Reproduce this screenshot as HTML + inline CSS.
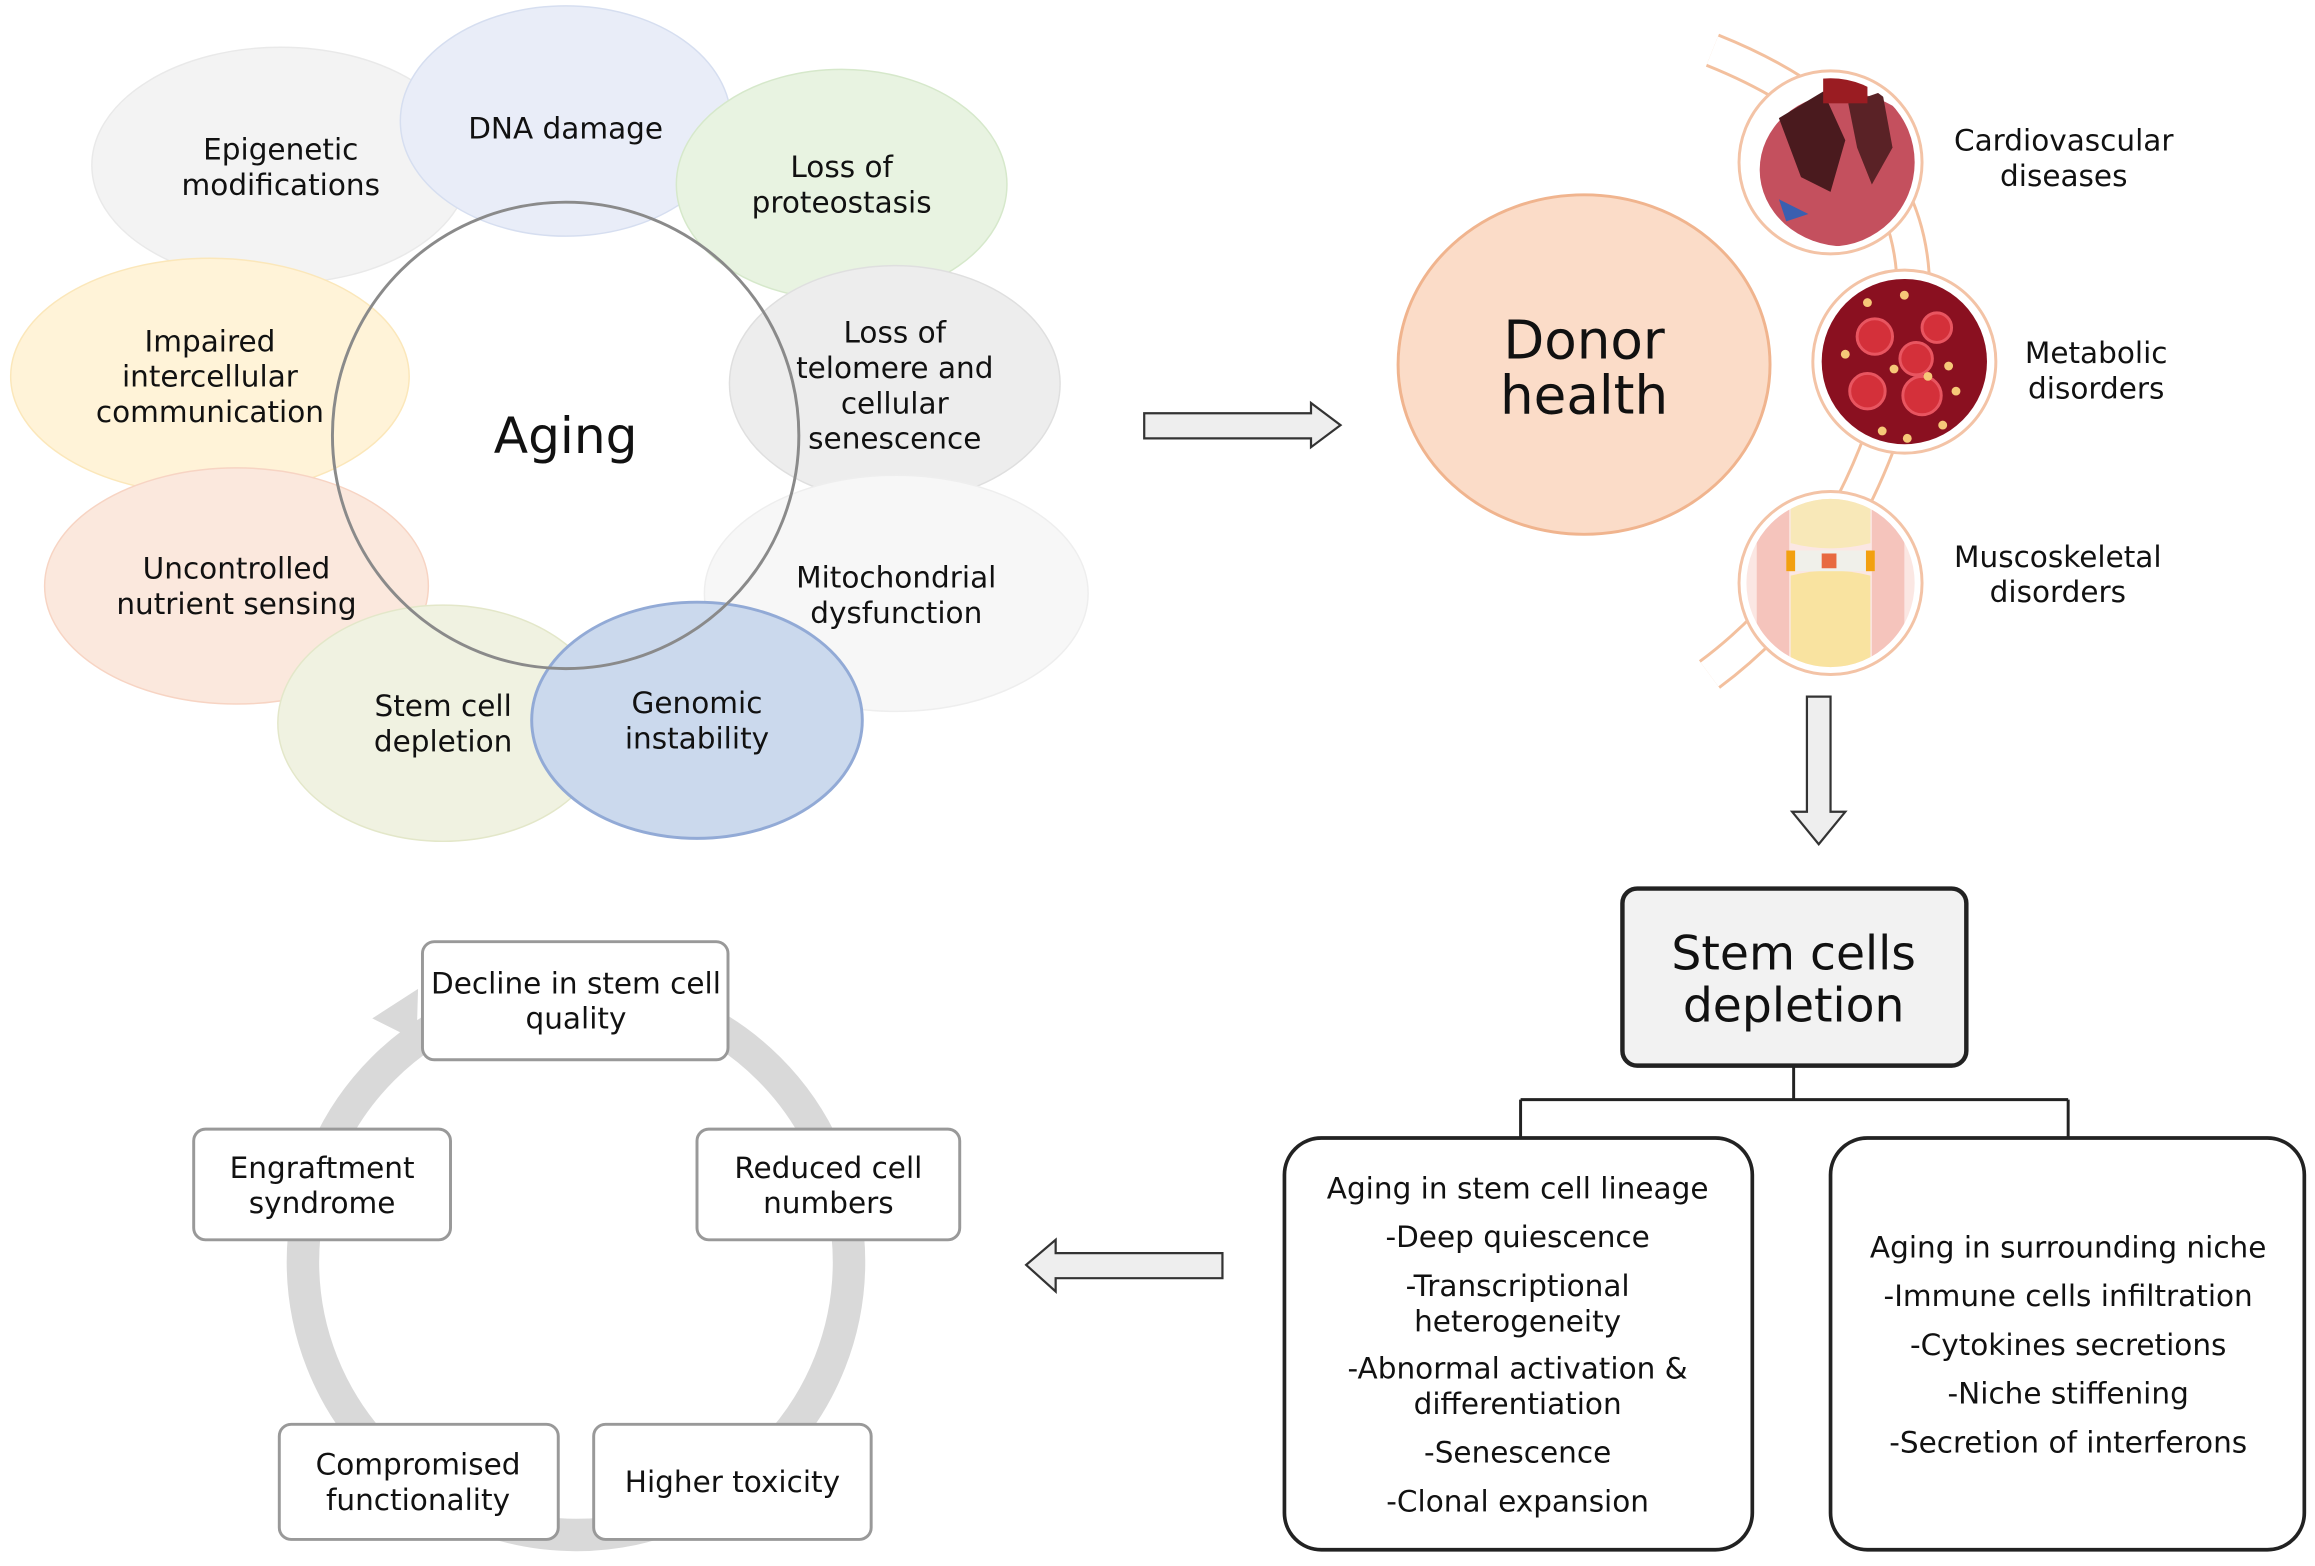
<!DOCTYPE html>
<html><head><meta charset="utf-8"><style>
html,body{margin:0;padding:0;background:#fff}
svg{display:block}
text{font-family:"DejaVu Sans","Liberation Sans",sans-serif;fill:#111;text-anchor:middle}
</style></head><body>
<svg width="2315" height="1566" viewBox="0 0 1568 1061" xmlns="http://www.w3.org/2000/svg">
<defs>
<clipPath id="c1"><circle cx="1240" cy="110" r="57"/></clipPath>
<clipPath id="c2"><circle cx="1290" cy="245" r="57"/></clipPath>
<clipPath id="c3"><circle cx="1240" cy="395" r="57"/></clipPath>
</defs>
<g opacity="0.85">
<ellipse cx="190" cy="112" rx="128" ry="80" fill="#f2f2f2" stroke="#e6e6e6"/>
<ellipse cx="383" cy="82" rx="112" ry="78" fill="#e6ebf7" stroke="#cfd9ee"/>
<ellipse cx="570" cy="125" rx="112" ry="78" fill="#e4f1dc" stroke="#cfe5c2"/>
<ellipse cx="606" cy="260" rx="112" ry="80" fill="#ebebeb" stroke="#dadada"/>
<ellipse cx="607" cy="402" rx="130" ry="80" fill="#f6f6f6" stroke="#ececec"/>
<ellipse cx="142" cy="255" rx="135" ry="80" fill="#fff1d2" stroke="#fbe3ae"/>
<ellipse cx="160" cy="397" rx="130" ry="80" fill="#fbe4d8" stroke="#f6cdb9"/>
<ellipse cx="300" cy="490" rx="112" ry="80" fill="#eef0dc" stroke="#dfe3c0"/>
<ellipse cx="472" cy="488" rx="112" ry="80" fill="#c3d3ea" stroke="#7f9ccf" stroke-width="2"/>
</g>
<circle cx="383" cy="295" r="158" fill="none" stroke="#8a8a8a" stroke-width="2"/>
<text x="383" y="307" font-size="34">Aging</text>
<g font-size="20">
<text x="190" y="108">Epigenetic</text><text x="190" y="132">modifications</text>
<text x="383" y="94">DNA damage</text>
<text x="570" y="120">Loss of</text><text x="570" y="144">proteostasis</text>
<text x="606" y="232">Loss of</text><text x="606" y="256">telomere and</text><text x="606" y="280">cellular</text><text x="606" y="304">senescence</text>
<text x="142" y="238">Impaired</text><text x="142" y="262">intercellular</text><text x="142" y="286">communication</text>
<text x="607" y="398">Mitochondrial</text><text x="607" y="422">dysfunction</text>
<text x="160" y="392">Uncontrolled</text><text x="160" y="416">nutrient sensing</text>
<text x="300" y="485">Stem cell</text><text x="300" y="509">depletion</text>
<text x="472" y="483">Genomic</text><text x="472" y="507">instability</text>
</g>
<path d="M775 280 H888 V273 L908 288 L888 303 V297 H775 Z" fill="#eee" stroke="#333" stroke-width="1.5"/>
<ellipse cx="1073" cy="247" rx="126" ry="115" fill="#fbdcc8" stroke="#f0b48e" stroke-width="2"/>
<text x="1073" y="243" font-size="36">Donor</text><text x="1073" y="280" font-size="36">health</text>
<path d="M1160 34 Q1325 100 1290 245 Q1255 385 1158 457" fill="none" stroke="#f3c09e" stroke-width="24"/>
<path d="M1160 34 Q1325 100 1290 245 Q1255 385 1158 457" fill="none" stroke="#fff" stroke-width="20"/>
<circle cx="1240" cy="110" r="62" fill="#fff" stroke="#f3c3a6" stroke-width="2"/>
<g clip-path="url(#c1)">
<rect x="1180" y="50" width="120" height="120" fill="#fff"/>
<ellipse cx="1250" cy="115" rx="58" ry="52" fill="#c4505e"/>
<path d="M1205 80 L1235 62 L1250 95 L1240 130 L1220 120 Z" fill="#4a1a1e"/>
<path d="M1252 70 L1275 62 L1282 100 L1268 125 L1258 100 Z" fill="#5a2226"/>
<rect x="1235" y="52" width="30" height="18" fill="#9a1c22"/>
<path d="M1205 135 L1225 145 L1210 150 Z" fill="#3a5fb0"/>
</g>
<circle cx="1290" cy="245" r="62" fill="#fff" stroke="#f3c3a6" stroke-width="2"/>
<circle cx="1290" cy="245" r="56" fill="#8a1020"/>
<g fill="#d4303a" stroke="#e85560" stroke-width="2">
<circle cx="1270" cy="228" r="12"/><circle cx="1298" cy="243" r="11"/><circle cx="1312" cy="222" r="10"/><circle cx="1265" cy="265" r="12"/><circle cx="1302" cy="268" r="13"/>
</g>
<g fill="#f6c878">
<circle cx="1265" cy="205" r="3"/><circle cx="1290" cy="200" r="3"/><circle cx="1250" cy="240" r="3"/><circle cx="1283" cy="250" r="3"/><circle cx="1320" cy="248" r="3"/><circle cx="1325" cy="265" r="3"/><circle cx="1275" cy="292" r="3"/><circle cx="1292" cy="297" r="3"/><circle cx="1316" cy="288" r="3"/><circle cx="1306" cy="255" r="3"/>
</g>
<circle cx="1240" cy="395" r="62" fill="#fff" stroke="#f3c3a6" stroke-width="2"/>
<g clip-path="url(#c3)">
<rect x="1180" y="335" width="120" height="120" fill="#fbe7e3"/>
<rect x="1190" y="335" width="22" height="120" fill="#f5c4bc"/>
<rect x="1268" y="335" width="22" height="120" fill="#f5c4bc"/>
<path d="M1213 335 H1267 V368 Q1240 375 1213 368 Z" fill="#f8e8b8"/>
<path d="M1213 390 Q1240 383 1267 390 V455 H1213 Z" fill="#f9e3a0"/>
<rect x="1210" y="373" width="60" height="14" fill="#f0f0ea"/>
<rect x="1210" y="373" width="6" height="14" fill="#f2a010"/>
<rect x="1264" y="373" width="6" height="14" fill="#f2a010"/>
<rect x="1234" y="375" width="10" height="10" fill="#e86a40"/>
</g>
<g font-size="20">
<text x="1398" y="102">Cardiovascular</text><text x="1398" y="126">diseases</text>
<text x="1420" y="246">Metabolic</text><text x="1420" y="270">disorders</text>
<text x="1394" y="384">Muscoskeletal</text><text x="1394" y="408">disorders</text>
</g>
<path d="M1224 472 H1240 V550 H1250 L1232 572 L1214 550 H1224 Z" fill="#eee" stroke="#333" stroke-width="1.5"/>
<rect x="1099" y="602" width="233" height="120" rx="10" fill="#f2f2f2" stroke="#222" stroke-width="3"/>
<text x="1215" y="657" font-size="32">Stem cells</text><text x="1215" y="692" font-size="32">depletion</text>
<path d="M1215 722 V745 M1030 745 H1401 M1030 745 V771 M1401 745 V771" stroke="#222" stroke-width="2" fill="none"/>
<rect x="870" y="771" width="317" height="279" rx="25" fill="#fff" stroke="#222" stroke-width="2.5"/>
<rect x="1240" y="771" width="321" height="279" rx="25" fill="#fff" stroke="#222" stroke-width="2.5"/>
<g font-size="20">
<text x="1028" y="812">Aging in stem cell lineage</text>
<text x="1028" y="845">-Deep quiescence</text>
<text x="1028" y="878">-Transcriptional</text><text x="1028" y="902">heterogeneity</text>
<text x="1028" y="934">-Abnormal activation &amp;</text><text x="1028" y="958">differentiation</text>
<text x="1028" y="991">-Senescence</text>
<text x="1028" y="1024">-Clonal expansion</text>
<text x="1401" y="852">Aging in surrounding niche</text>
<text x="1401" y="885">-Immune cells infiltration</text>
<text x="1401" y="918">-Cytokines secretions</text>
<text x="1401" y="951">-Niche stiffening</text>
<text x="1401" y="984">-Secretion of interferons</text>
</g>
<path d="M828 849 H715 V840 L695 857 L715 875 V866 H828 Z" fill="#eee" stroke="#333" stroke-width="1.5"/>
<circle cx="390" cy="855" r="185" fill="none" stroke="#d9d9d9" stroke-width="22"/>
<path d="M252 690 L283 670 L282 705 Z" fill="#d9d9d9"/>
<g fill="#fff" stroke="#999" stroke-width="2">
<rect x="286" y="638" width="207" height="80" rx="8"/>
<rect x="472" y="765" width="178" height="75" rx="8"/>
<rect x="402" y="965" width="188" height="78" rx="8"/>
<rect x="189" y="965" width="189" height="78" rx="8"/>
<rect x="131" y="765" width="174" height="75" rx="8"/>
</g>
<g font-size="20">
<text x="390" y="673">Decline in stem cell</text><text x="390" y="697">quality</text>
<text x="561" y="798">Reduced cell</text><text x="561" y="822">numbers</text>
<text x="496" y="1011">Higher toxicity</text>
<text x="283" y="999">Compromised</text><text x="283" y="1023">functionality</text>
<text x="218" y="798">Engraftment</text><text x="218" y="822">syndrome</text>
</g>
</svg>
</body></html>
